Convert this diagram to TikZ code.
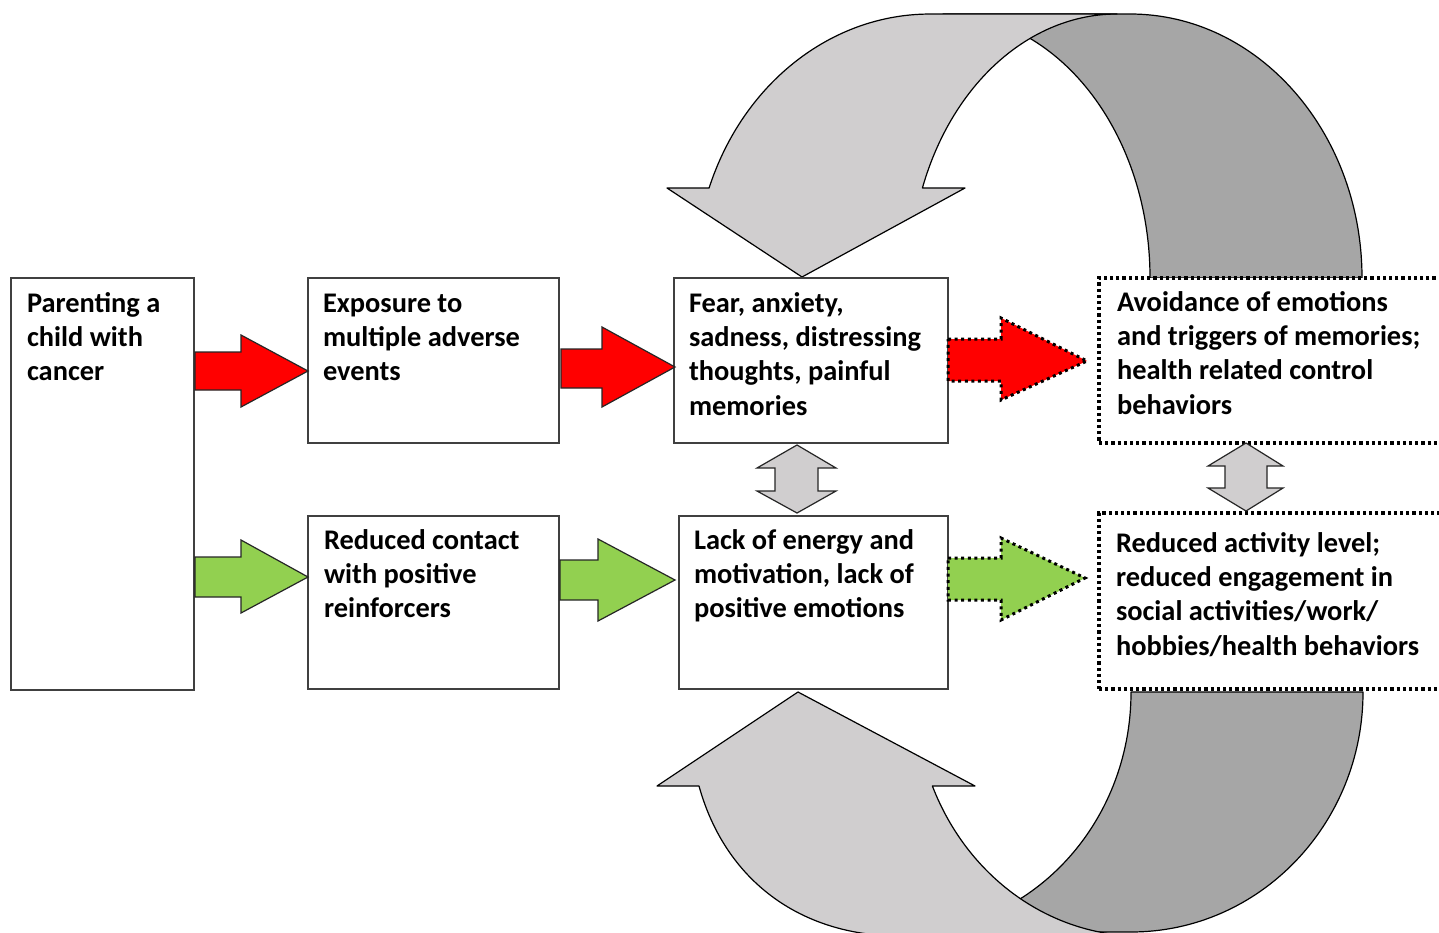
\documentclass[tikz,border=0pt]{standalone}
\usepackage{fontspec}
\setmainfont{Carlito}
\definecolor{lgray}{HTML}{D0CECF}
\definecolor{dgray}{HTML}{A6A6A6}
\definecolor{grn}{HTML}{92D050}
\definecolor{redf}{HTML}{FF0000}
\definecolor{boxline}{HTML}{404040}
\newcommand\blockarr[9]{%
  \path[#1] (#2,-#3) -- (#5,-#3) -- (#5,-#6) -- (#8,-#9) -- (#5,-#7) -- (#5,-#4) -- (#2,-#4) -- cycle;}
\begin{document}
\begin{tikzpicture}[x=0.5pt,y=0.5pt,
  box/.style={draw=boxline, line width=1pt, fill=white, inner sep=0pt, outer sep=0pt, anchor=north west},
  dotbox/.style={box, draw=black, line width=2pt, dash pattern=on 1.6pt off 1.5pt},
  txt/.style={anchor=north west, inner sep=0pt, outer sep=0pt, align=left, font=\fontsize{14.2}{17.2}\selectfont\bfseries},
  blk/.style={draw=black!85, line width=0.6pt},
  curv/.style={draw=black, line width=0.6pt, line join=round},
  dotarr/.style={draw=black, line width=1.5pt, dash pattern=on 1.5pt off 1.8pt}]
\useasboundingbox (0,0) rectangle (1439,-932);
\clip (0,0) rectangle (1439,-932);
\fill[white] (0,0) rectangle (1439,-932);

% top curved arrow
\path[curv, fill=dgray] (1150,-278) arc[start angle=0, end angle=90, x radius=207, y radius=264]
  -- (1130,-14) arc[start angle=90, end angle=0, x radius=232, y radius=264] -- cycle;
\path[curv, fill=lgray] (667,-188) -- (709.1,-188)
  arc[start angle=160.06, end angle=90, x radius=235, y radius=264]
  -- (1117,-14) arc[start angle=90, end angle=160.06, x radius=207, y radius=264]
  -- (965,-188) -- (802,-277) -- cycle;

% bottom curved arrow
\path[curv, fill=dgray] (1131,-692) arc[start angle=0, end angle=-90, x radius=225, y radius=240]
  -- (1131,-932) arc[start angle=-90, end angle=0, x radius=232, y radius=240] -- cycle;
\path[curv, fill=lgray] (657,-786) -- (699,-786) .. controls (725,-880) and (800,-936) .. (900,-936)
  -- (1140,-936) arc[start angle=-90, end angle=-157.35, x radius=225, y radius=244]
  -- (975,-786) -- (798,-692) -- cycle;

% boxes
\node[box, minimum width=91.5pt, minimum height=206pt] (A) at (11,-278) {};
\node[box, minimum width=125.5pt, minimum height=82.5pt] (B) at (308,-278) {};
\node[box, minimum width=137pt, minimum height=82.5pt] (C) at (674,-278) {};
\node[dotbox, minimum width=185.5pt, minimum height=82.5pt] (D) at (1099,-278) {};
\node[box, minimum width=125.5pt, minimum height=86.5pt] (E) at (308,-516) {};
\node[box, minimum width=134.5pt, minimum height=86.5pt] (F) at (679,-516) {};
\node[dotbox, minimum width=185.5pt, minimum height=88pt] (G) at (1099,-513) {};

% texts
\node[txt] (At) at (27,-288) {\rule{0pt}{12pt}Parenting a\\child with\\cancer};
\node[txt] (Bt) at (323,-288) {\rule{0pt}{12pt}Exposure to\\multiple adverse\\events};
\node[txt] (Ct) at (689,-288) {\rule{0pt}{12pt}Fear, anxiety,\\sadness, distressing\\thoughts, painful\\memories};
\node[txt] (Dt) at (1117,-287) {\rule{0pt}{12pt}Avoidance of emotions\\and triggers of memories;\\health related control\\behaviors};
\node[txt] (Et) at (324,-525) {\rule{0pt}{12pt}Reduced contact\\with positive\\reinforcers};
\node[txt] (Ft) at (694,-525) {\rule{0pt}{12pt}Lack of energy and\\motivation, lack of\\positive emotions};
\node[txt] (Gt) at (1116,-528) {\rule{0pt}{12pt}Reduced activity level;\\reduced engagement in\\social activities/work/\\hobbies/health behaviors};

% block arrows
\blockarr{blk, fill=redf}{195}{352}{390}{241}{335}{407}{308}{371}
\blockarr{blk, fill=redf}{561}{349}{388}{602}{327}{407}{675}{367}
\blockarr{dotarr, fill=redf}{948}{339}{381}{1001}{318}{400}{1087}{361}
\blockarr{blk, fill=grn}{195}{557}{597}{241}{540}{613}{308}{577}
\blockarr{blk, fill=grn}{560}{560}{600}{598}{539}{621}{675}{580}
\blockarr{dotarr, fill=grn}{948}{558}{600}{1001}{538}{620}{1085}{578}

% double arrows
\path[blk, fill=lgray] (797,-445) -- (836,-468) -- (818,-468) -- (818,-491) -- (836,-491) -- (797,-513)
  -- (757,-491) -- (775,-491) -- (775,-468) -- (757,-468) -- cycle;
\path[blk, fill=lgray] (1246,-443) -- (1283,-466) -- (1267,-466) -- (1267,-488) -- (1283,-488) -- (1246,-511)
  -- (1208,-488) -- (1225,-488) -- (1225,-466) -- (1208,-466) -- cycle;
\end{tikzpicture}
\end{document}
